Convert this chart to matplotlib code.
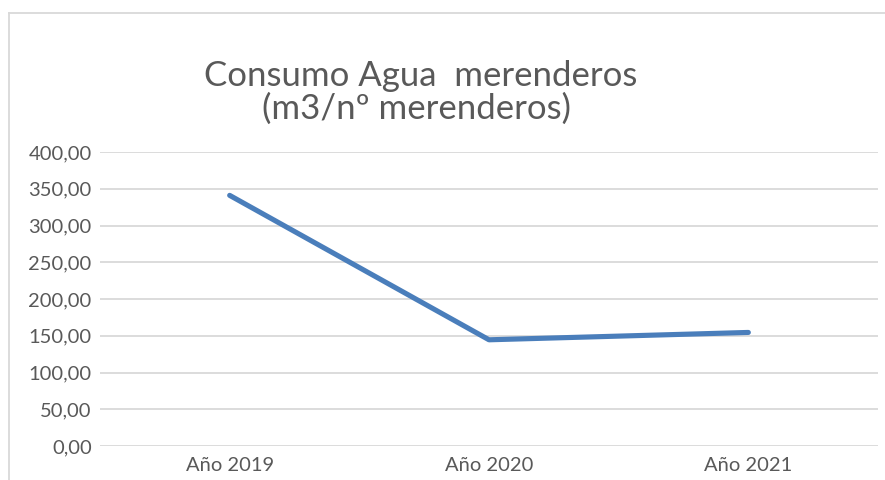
import matplotlib.pyplot as plt
from matplotlib.ticker import FuncFormatter
from matplotlib.lines import Line2D

# Data
years = ['Año 2019', 'Año 2020', 'Año 2021']
consumo = [341.0, 144.5, 154.5]
y_ticks = [0, 50, 100, 150, 200, 250, 300, 350, 400]

text_grey = '#595959'
grid_grey = '#D9D9D9'
line_blue = '#4A7EBB'

plt.rcParams['font.family'] = ['Lato', 'DejaVu Sans']

fig = plt.figure(figsize=(8.85, 4.8), dpi=100)
ax = fig.add_axes([100 / 885, 34 / 480, 778 / 885, 294 / 480])

x = list(range(len(years)))
ax.plot(x, consumo, color=line_blue, lw=3.7, solid_capstyle='round',
        solid_joinstyle='round', zorder=3)

ax.set_xlim(-0.5, len(years) - 0.5)
ax.set_ylim(0, 400)
ax.set_yticks(y_ticks)
ax.yaxis.set_major_formatter(FuncFormatter(lambda v, p: f'{v:.2f}'.replace('.', ',')))
ax.set_xticks(x)
ax.set_xticklabels(years)

ax.grid(axis='y', color=grid_grey, lw=1.3)
ax.set_axisbelow(True)
for s in ax.spines.values():
    s.set_visible(False)
ax.tick_params(length=0, labelsize=14.5, colors=text_grey, pad=6)
ax.tick_params(axis='x', pad=8)

# Title (two lines, as in the original)
fig.text(421 / 885, 1 - 86 / 480, 'Consumo Agua  merenderos', ha='center',
         va='baseline', fontsize=25, color=text_grey)
fig.text(417 / 885, 1 - 119 / 480, '(m3/nº merenderos)', ha='center',
         va='baseline', fontsize=25, color=text_grey)

# chart area border (only top/left visible in the crop)
fig.add_artist(Line2D([8.5 / 885, 8.5 / 885], [0, 1 - 12.5 / 480],
                      color=grid_grey, lw=1.3, transform=fig.transFigure))
fig.add_artist(Line2D([8.5 / 885, 1], [1 - 12.5 / 480, 1 - 12.5 / 480],
                      color=grid_grey, lw=1.3, transform=fig.transFigure))

fig.savefig('out.png', dpi=100)
